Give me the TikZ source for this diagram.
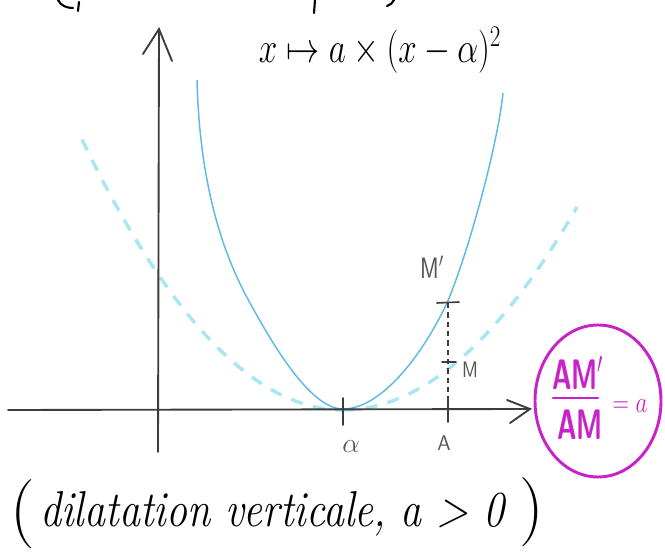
\documentclass[tikz,border=0pt]{standalone}
\usetikzlibrary{arrows.meta}
\definecolor{axisgray}{RGB}{60,60,60}
\definecolor{solidblue}{RGB}{95,185,230}
\definecolor{dashcyan}{RGB}{170,230,242}
\definecolor{pinkm}{RGB}{200,35,200}
\definecolor{labgray}{RGB}{85,85,85}
\begin{document}
\begin{tikzpicture}[x=0.75pt,y=-0.75pt,
  axis/.style={draw=axisgray,line width=1.4pt,line cap=round},
  solidcurve/.style={draw=solidblue,line width=1.1pt},
  dashcurve/.style={draw=dashcyan,line width=2.6pt,dash pattern=on 9pt off 8pt},
  lab/.style={text=labgray,inner sep=0pt},
  ink/.style={draw=black,line width=1.6pt,line cap=round},
  pinkline/.style={draw=pinkm,line width=2.2pt,line cap=round},
  pinktext/.style={text=pinkm,inner sep=0pt},
  tick/.style={draw=axisgray,line width=1.2pt,line cap=round}]
\useasboundingbox (0,0) rectangle (665,555);

% fragments of text cut off at the top
\draw[ink] (58,0) .. controls (61,6) and (67,8) .. (73,8);
\draw[ink] (79,2) -- (78,11);
\draw[ink] (315,0) -- (314,13);
\draw[ink] (394,0) .. controls (393,3) and (390,5) .. (387,6);

% dashed curve
\draw[dashcurve] plot[domain=-261:0,samples=60,smooth] ({343+\x},{410-(0.063*\x)*(0.063*\x)});
\draw[dashcurve] plot[domain=0:234,samples=60,smooth] ({343+\x},{410-(0.0609*\x)*(0.0609*\x)});

% solid curve
\coordinate (V) at (343,409);
\coordinate (Lmid) at (250,303);
\coordinate (Ltop) at (197,80);
\coordinate (Rmid) at (447,303);
\coordinate (Rtop) at (503,93);
\draw[solidcurve] (Ltop) .. controls (200,200) and (230,267) .. (Lmid)
  .. controls (272,343) and (310,409) .. (V)
  .. controls (380,409) and (421,358) .. (Rmid)
  .. controls (466,259) and (497,150) .. (Rtop);

% axes
\coordinate (xl) at (8,410);
\coordinate (xr) at (530,409);
\coordinate (xu) at (507,400);
\coordinate (xd) at (510,423);
\coordinate (yb) at (158,452);
\coordinate (yt) at (159,29);
\coordinate (yl) at (143,54);
\coordinate (yr) at (172,61);
\draw[axis] (xl) -- (xr);
\draw[axis] (xu) -- (xr) -- (xd);
\draw[axis] (yb) -- (yt);
\draw[axis] (yl) -- (yt) -- (yr);

% alpha tick
\coordinate (at1) at (343,398);
\coordinate (at2) at (343,425);
\draw[tick] (at1) -- (at2);

% vertical dashed at A
\coordinate (Mp) at (448,303);
\coordinate (M) at (448,362);
\coordinate (Ab) at (448,422);
\draw[draw=axisgray,line width=1pt,dash pattern=on 4pt off 3pt] (Mp) -- (Ab);
\draw[tick] (448,399) -- (Ab);
\draw[tick] (437,303) -- (459,302);
\draw[tick] (442,362) -- (456,362);

% labels
\node[lab,font=\fontsize{22}{22}\selectfont] (alphalab) at (351,447) {$\alpha$};
\node[lab,font=\sffamily\fontsize{16}{16}\selectfont] (Alab) at (444,443) {A};
\node[lab,font=\sffamily\fontsize{17}{17}\selectfont] (Mplab) at (432,267) {\scalebox{1}[1.3]{M$'$}};
\node[lab,font=\sffamily\fontsize{14}{14}\selectfont] (Mlab) at (470,370) {\scalebox{1}[1.2]{M}};

% formula
\node[inner sep=0pt,font=\fontsize{25}{25}\selectfont] (formula) at (380,50)
  {\scalebox{1}[1.3]{$x\mapsto a\times(x-\alpha)^2$}};

% magenta ellipse
\draw[pinkline] (598,401) ellipse [x radius=47.25pt, y radius=57pt];
\node[pinktext,font=\sffamily\bfseries\fontsize{20}{20}\selectfont] (num) at (578,373) {\scalebox{1}[1.6]{AM$'$}};
\coordinate (barl) at (553,398);
\coordinate (barr) at (598,398);
\draw[pinkline] (barl) -- (barr);
\node[pinktext,font=\sffamily\bfseries\fontsize{20}{20}\selectfont] (den) at (580,425) {\scalebox{1}[1.6]{AM}};
\node[pinktext,font=\fontsize{18}{18}\selectfont] (eq) at (630,406) {\scalebox{1}[1.3]{$=a$}};

% bottom text
\node[inner sep=0pt,font=\fontsize{52}{52}\selectfont] (lp) at (23,514) {(};
\node[inner sep=0pt,font=\fontsize{52}{52}\selectfont] (rp) at (532,512) {)};
\node[inner sep=0pt,anchor=base west,font=\itshape\fontsize{31.5}{31.5}\selectfont] (bottom) at (40,527)
  {\scalebox{1}[1.2]{dilatation verticale, a > 0}};
\end{tikzpicture}
\end{document}
